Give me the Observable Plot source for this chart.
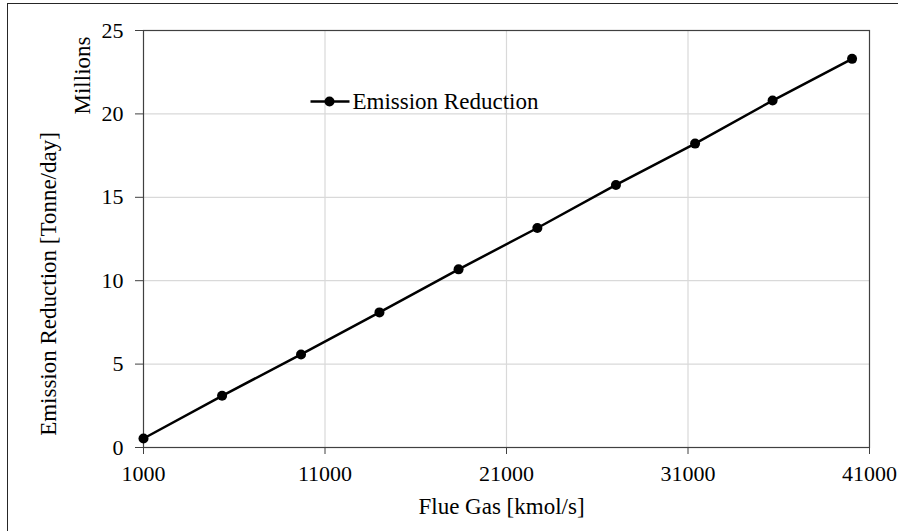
<!DOCTYPE html>
<html><head><meta charset="utf-8">
<script src="https://cdn.jsdelivr.net/npm/d3@7"></script>
<script src="https://cdn.jsdelivr.net/npm/@observablehq/plot@0.6"></script>
<style>
body{margin:0;background:#fff;}
#wrap{position:relative;width:898px;height:531px;overflow:hidden;font-family:"Liberation Serif","Times New Roman",serif;background:#fff;}
#chart{position:absolute;left:0;top:0;}
#border{position:absolute;left:7px;top:3px;width:1000px;height:1000px;border:1px solid #262626;box-sizing:border-box;}
#legend{position:absolute;left:0;top:0;}
#legend text{font-family:"Liberation Serif","Times New Roman",serif;font-size:23px;}
</style></head><body>
<div id="wrap"><div id="chart"></div><div id="border"></div>
<svg id="legend" width="898" height="531">
  <line x1="310.5" x2="349.5" y1="101.5" y2="101.5" stroke="#000" stroke-width="2.5"/>
  <circle cx="329.5" cy="101.5" r="5" fill="#000"/>
  <text x="352.5" y="108.5" fill="#000">Emission Reduction</text>
</svg>
</div>
<script>
const flueGas = [1000, 5330, 9680, 14000, 18360, 22700, 27030, 31390, 35660, 40040];
const emissionReduction = [0.54, 3.10, 5.58, 8.10, 10.68, 13.16, 15.74, 18.22, 20.80, 23.30];
const xTicks = [1000, 11000, 21000, 31000, 41000];
const xGrid = [11000, 21000, 31000];
const yTicks = [0, 5, 10, 15, 20, 25];
const yGrid = [5, 10, 15, 20];
const xTitle = "Flue Gas [kmol/s]";
const yTitle = "Emission Reduction [Tonne/day]";
const yUnit = "Millions";

const data = flueGas.map((x, i) => ({x, y: emissionReduction[i]}));
const font = "'Liberation Serif', 'Times New Roman', serif";

const chart = Plot.plot({
  width: 898,
  height: 531,
  marginLeft: 143,
  marginRight: 29,
  marginTop: 30,
  marginBottom: 84,
  style: {background: "transparent", fontFamily: font, fontSize: "22px", color: "#000", overflow: "visible"},
  x: {domain: [1000, 41000], label: null},
  y: {domain: [0, 25], label: null},
  marks: [
    Plot.gridX(xGrid, {stroke: "#d9d9d9", strokeOpacity: 1, strokeWidth: 1.2}),
    Plot.gridY(yGrid, {stroke: "#d9d9d9", strokeOpacity: 1, strokeWidth: 1.2}),
    Plot.frame({stroke: "#404040", strokeWidth: 1.2}),
    Plot.axisX(xTicks, {tickSize: 7, tickPadding: 11, stroke: "#404040", fill: "#000", fontSize: 22, tickFormat: d => String(d), label: null}),
    Plot.axisY(yTicks, {tickSize: 8, tickPadding: 12, stroke: "#404040", fill: "#000", fontSize: 22, tickFormat: d => String(d), label: null}),
    Plot.text([xTitle], {frameAnchor: "bottom", textAnchor: "middle", lineAnchor: "middle", dx: -5, dy: 59, fontSize: 23, fill: "#000"}),
    Plot.text([yTitle], {frameAnchor: "left", textAnchor: "middle", lineAnchor: "middle", dx: -95, dy: 45, rotate: -90, fontSize: 23, fill: "#000"}),
    Plot.text([yUnit], {frameAnchor: "top-left", textAnchor: "middle", lineAnchor: "middle", dx: -61, dy: 45, rotate: -90, fontSize: 23, fill: "#000"}),
    Plot.line(data, {x: "x", y: "y", stroke: "#000", strokeWidth: 2.5}),
    Plot.dot(data, {x: "x", y: "y", r: 5, fill: "#000", stroke: "none"})
  ]
});
document.getElementById("chart").appendChild(chart);
</script>
</body></html>
